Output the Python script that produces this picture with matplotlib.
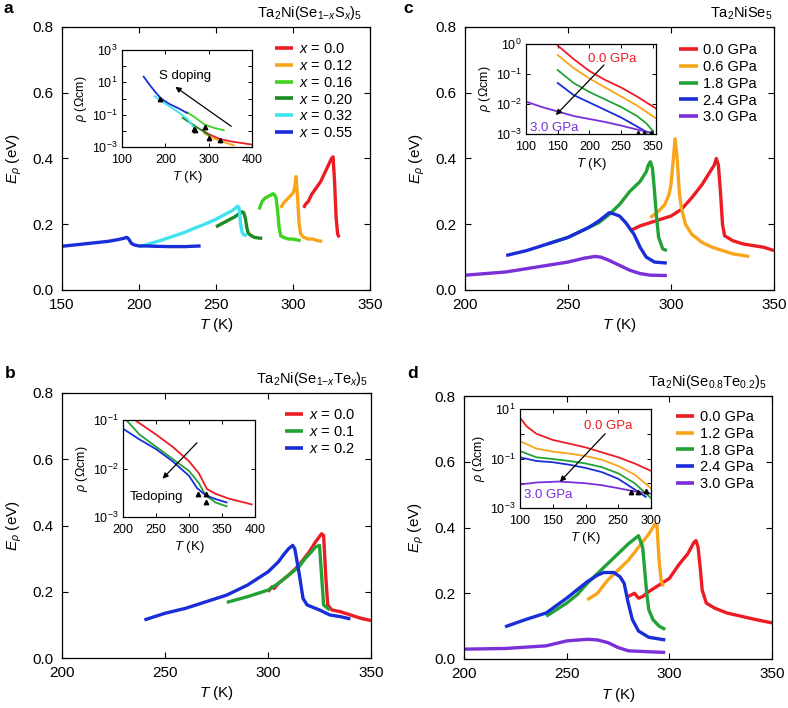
import numpy as np
import matplotlib
matplotlib.use('Agg')
import matplotlib.pyplot as plt

plt.rcParams['font.family'] = ['Liberation Sans', 'DejaVu Sans']
plt.rcParams['mathtext.fontset'] = 'custom'
plt.rcParams['mathtext.rm'] = 'Liberation Sans'
plt.rcParams['mathtext.it'] = 'Liberation Sans:italic'
plt.rcParams['mathtext.bf'] = 'Liberation Sans:bold'
plt.rcParams['xtick.direction'] = 'in'
plt.rcParams['ytick.direction'] = 'in'
plt.rcParams['xtick.top'] = True
plt.rcParams['ytick.right'] = True
plt.rcParams['xtick.minor.visible'] = False
plt.rcParams['ytick.minor.visible'] = False

RED, ORANGE, LGREEN, DGREEN = '#ec1c24', '#f8a51b', '#3fd31f', '#1c8a22'
GREEN, CYAN, BLUE, PURPLE = '#22a236', '#3fe3f0', '#1a2ed8', '#7a2fd8'

# ---- panel a : Ta2Ni(Se1-xSx)5 ----
a_labels = ['$x$ = 0.0', '$x$ = 0.12', '$x$ = 0.16', '$x$ = 0.20', '$x$ = 0.32', '$x$ = 0.55']
a_T = [
    [307, 308, 310, 312, 315, 318, 320, 322, 323, 324, 325, 326, 327, 328, 329, 330],
    [292, 294, 296, 298, 300, 301, 302, 303, 304, 305, 307, 310, 313, 316, 319],
    [278, 280, 282, 284, 286, 287, 288, 289, 290, 291, 292, 294, 297, 300, 303, 305],
    [250, 253, 256, 259, 262, 265, 267, 268, 269, 270, 271, 273, 275, 278, 280],
    [200, 205, 210, 215, 220, 225, 230, 235, 240, 245, 250, 255, 260, 263, 264, 265, 266, 267, 268, 270],
    [150, 160, 170, 180, 186, 190, 192, 193, 194, 195, 197, 200, 205, 210, 220, 230, 240],
]
a_E = [
    [0.25, 0.26, 0.27, 0.29, 0.31, 0.33, 0.35, 0.37, 0.38, 0.39, 0.40, 0.405, 0.33, 0.22, 0.17, 0.16],
    [0.25, 0.265, 0.275, 0.285, 0.295, 0.31, 0.345, 0.28, 0.20, 0.17, 0.16, 0.155, 0.155, 0.15, 0.148],
    [0.245, 0.27, 0.28, 0.285, 0.29, 0.293, 0.29, 0.28, 0.24, 0.19, 0.165, 0.16, 0.155, 0.155, 0.152, 0.15],
    [0.192, 0.2, 0.207, 0.215, 0.222, 0.232, 0.238, 0.235, 0.22, 0.19, 0.172, 0.165, 0.16, 0.158, 0.157],
    [0.132, 0.138, 0.145, 0.152, 0.16, 0.168, 0.176, 0.186, 0.195, 0.205, 0.215, 0.228, 0.24, 0.25, 0.255, 0.25, 0.2, 0.175, 0.168, 0.165],
    [0.133, 0.138, 0.143, 0.148, 0.153, 0.157, 0.16, 0.157, 0.15, 0.142, 0.137, 0.134, 0.134, 0.133, 0.132, 0.132, 0.134],
]
# inset a : log10(rho / Ohm cm) vs T
a_in_T = [
    [285, 300, 325, 350, 375, 400],
    [290, 310, 330, 358],
    [250, 270, 290, 310, 335],
    [240, 260, 280, 302],
    [175, 190, 210, 230, 250, 265],
    [150, 165, 180, 190, 210, 230, 250],
]
a_in_logrho = [
    [-1.95, -2.2, -2.5, -2.65, -2.75, -2.85],
    [-2.15, -2.45, -2.65, -2.9],
    [-0.85, -1.2, -1.6, -1.8, -1.97],
    [-1.2, -1.55, -1.9, -2.28],
    [0.15, -0.15, -0.5, -0.85, -1.25, -1.75],
    [1.35, 0.8, 0.3, 0.0, -0.35, -0.6, -0.9],
]
a_tri_T = [188, 265, 269, 292, 300, 327]
a_tri_logrho = [-0.04, -1.87, -1.95, -1.76, -2.42, -2.55]

# ---- panel c : Ta2NiSe5 under pressure ----
c_labels = ['0.0 GPa', '0.6 GPa', '1.8 GPa', '2.4 GPa', '3.0 GPa']
c_T = [
    [280, 285, 290, 295, 300, 305, 310, 315, 319, 321, 322, 323, 324, 325, 326, 330, 335, 340, 345, 350],
    [290, 294, 297, 299, 300, 301, 302, 303, 304, 305, 307, 310, 315, 320, 325, 330, 338],
    [240, 250, 260, 265, 270, 275, 280, 285, 288, 289, 290, 291, 292, 293, 294, 296, 298],
    [220, 230, 240, 250, 260, 265, 270, 272, 275, 278, 282, 285, 288, 292, 298],
    [200, 210, 220, 230, 240, 250, 258, 263, 266, 270, 275, 280, 285, 290, 298],
]
c_E = [
    [0.18, 0.195, 0.205, 0.215, 0.225, 0.245, 0.28, 0.32, 0.36, 0.38, 0.40, 0.38, 0.30, 0.20, 0.165, 0.15, 0.14, 0.135, 0.13, 0.12],
    [0.22, 0.24, 0.26, 0.29, 0.32, 0.39, 0.46, 0.40, 0.30, 0.25, 0.2, 0.17, 0.145, 0.13, 0.12, 0.11, 0.102],
    [0.14, 0.16, 0.19, 0.205, 0.23, 0.26, 0.30, 0.33, 0.36, 0.38, 0.39, 0.37, 0.30, 0.22, 0.16, 0.125, 0.12],
    [0.105, 0.12, 0.14, 0.16, 0.19, 0.21, 0.235, 0.232, 0.225, 0.205, 0.17, 0.13, 0.1, 0.085, 0.082],
    [0.045, 0.05, 0.055, 0.065, 0.075, 0.085, 0.097, 0.102, 0.1, 0.09, 0.075, 0.06, 0.05, 0.045, 0.044],
]
c_in_T = [
    [150, 175, 200, 225, 250, 275, 305],
    [150, 175, 200, 225, 250, 275, 305],
    [150, 175, 200, 225, 250, 275, 290, 300],
    [150, 175, 200, 225, 250, 275, 292],
    [100, 125, 150, 175, 200, 225, 250, 275, 300],
]
c_in_logrho = [
    [-0.05, -0.5, -0.9, -1.2, -1.45, -1.75, -2.15],
    [-0.37, -0.8, -1.15, -1.45, -1.75, -2.05, -2.48],
    [-0.87, -1.3, -1.6, -1.85, -2.1, -2.4, -2.65, -2.9],
    [-1.3, -1.7, -1.95, -2.2, -2.45, -2.75, -2.95],
    [-1.92, -2.1, -2.25, -2.4, -2.5, -2.6, -2.72, -2.85, -2.97],
]
c_tri_T = [276, 286, 297]
c_tri_logrho = [-2.97, -2.97, -2.97]
c_in_xticks = [100, 150, 200, 250, 300]
c_in_xticklabels = ['100', '150', '200', '250', '350']

# ---- panel b : Ta2Ni(Se1-xTex)5 ----
b_labels = ['$x$ = 0.0', '$x$ = 0.1', '$x$ = 0.2']
b_T = [
    [300, 302, 303, 305, 310, 315, 320, 323, 326, 327, 328, 329, 331, 335, 340, 345, 350],
    [280, 290, 300, 305, 310, 315, 318, 321, 323, 325, 326, 327, 330],
    [240, 250, 260, 270, 280, 290, 300, 305, 308, 310, 312, 313, 315, 317, 319, 325, 330, 335, 340],
]
b_E = [
    [0.2, 0.215, 0.21, 0.225, 0.25, 0.28, 0.32, 0.35, 0.375, 0.37, 0.25, 0.16, 0.145, 0.14, 0.13, 0.12, 0.113],
    [0.168, 0.185, 0.205, 0.225, 0.25, 0.275, 0.3, 0.32, 0.335, 0.34, 0.25, 0.16, 0.145],
    [0.115, 0.135, 0.15, 0.17, 0.19, 0.22, 0.26, 0.29, 0.315, 0.33, 0.34, 0.33, 0.26, 0.18, 0.16, 0.145, 0.13, 0.125, 0.118],
]
b_in_T = [
    [218, 250, 275, 300, 315, 327, 340, 360, 395],
    [205, 225, 250, 275, 300, 315, 325, 340, 357],
    [200, 225, 250, 275, 300, 312, 325, 340, 357],
]
b_in_logrho = [
    [-1.0, -1.3, -1.55, -1.85, -2.1, -2.42, -2.52, -2.62, -2.74],
    [-1.0, -1.3, -1.55, -1.8, -2.05, -2.3, -2.55, -2.7, -2.78],
    [-1.18, -1.4, -1.6, -1.85, -2.15, -2.4, -2.55, -2.63, -2.7],
]
b_tri_T = [313, 325.5, 325.5]
b_tri_logrho = [-2.52, -2.52, -2.69]

# ---- panel d : Ta2Ni(Se0.8Te0.2)5 under pressure ----
d_labels = ['0.0 GPa', '1.2 GPa', '1.8 GPa', '2.4 GPa', '3.0 GPa']
d_T = [
    [280, 283, 285, 287, 290, 295, 300, 305, 309, 312, 313, 314, 315, 316, 318, 322, 328, 335, 342, 350],
    [260, 265, 270, 275, 280, 285, 290, 293, 294, 295, 296, 297],
    [240, 250, 255, 260, 265, 270, 275, 280, 285, 287, 288, 289, 290, 292, 295, 298],
    [220, 230, 240, 250, 255, 260, 265, 268, 273, 276, 278, 280, 282, 285, 290, 298],
    [200, 220, 240, 250, 260, 265, 270, 275, 280, 290, 298],
]
d_E = [
    [0.19, 0.2, 0.185, 0.19, 0.205, 0.225, 0.245, 0.29, 0.32, 0.355, 0.36, 0.34, 0.28, 0.21, 0.17, 0.155, 0.14, 0.13, 0.12, 0.11],
    [0.18, 0.2, 0.24, 0.27, 0.3, 0.34, 0.38, 0.41, 0.405, 0.3, 0.24, 0.22],
    [0.13, 0.17, 0.195, 0.23, 0.26, 0.29, 0.32, 0.35, 0.375, 0.34, 0.27, 0.2, 0.15, 0.12, 0.1, 0.09],
    [0.098, 0.12, 0.14, 0.185, 0.21, 0.235, 0.255, 0.263, 0.263, 0.25, 0.23, 0.17, 0.12, 0.085, 0.066, 0.058],
    [0.03, 0.032, 0.04, 0.055, 0.06, 0.058, 0.05, 0.035, 0.025, 0.022, 0.02],
]
d_in_T = [
    [100, 110, 125, 150, 175, 200, 225, 250, 275, 300],
    [100, 125, 150, 175, 200, 225, 250, 275, 300],
    [100, 125, 150, 175, 200, 225, 250, 275, 300],
    [100, 125, 150, 175, 200, 225, 250, 275, 292],
    [100, 125, 160, 200, 225, 250, 275, 300],
]
d_in_logrho = [
    [0.65, 0.3, 0.0, -0.25, -0.4, -0.55, -0.75, -0.95, -1.2, -1.5],
    [-0.3, -0.6, -0.72, -0.8, -0.9, -1.05, -1.3, -1.65, -2.2],
    [-0.7, -0.95, -1.02, -1.1, -1.2, -1.35, -1.6, -2.0, -2.6],
    [-0.95, -1.1, -1.15, -1.25, -1.38, -1.55, -1.82, -2.25, -2.55],
    [-2.05, -1.97, -1.93, -2.0, -2.08, -2.2, -2.33, -2.42],
]
d_tri_T = [270, 280, 293]
d_tri_logrho = [-2.35, -2.35, -2.3]

W, H = 788, 708
fig = plt.figure(figsize=(W / 100, H / 100), dpi=100)


def box(l, t, r, b):
    return [l / W, 1 - b / H, (r - l) / W, (b - t) / H]


def main_panel(rect, Ts, Es, labels, colors, xlim, xticks, title, title_x, anchor):
    ax = fig.add_axes(box(*rect))
    for T, E, lab, col in zip(Ts, Es, labels, colors):
        ax.plot(T, E, color=col, lw=2.4, label=lab, solid_capstyle='butt')
    ax.set_xlim(*xlim)
    ax.set_ylim(0, 0.8)
    ax.set_xticks(xticks)
    ax.set_yticks([0, 0.2, 0.4, 0.6, 0.8])
    ax.set_yticklabels(['0.0', '0.2', '0.4', '0.6', '0.8'])
    ax.tick_params(labelsize=11, length=4, width=0.8, pad=6)
    ax.set_xlabel('$T$ (K)', fontsize=11, labelpad=3)
    ax.set_ylabel(r'$E_\rho$ (eV)', fontsize=11, labelpad=6)
    ax.text(title_x, 1.02, title, transform=ax.transAxes, ha='right', va='bottom', fontsize=10.5)
    leg = ax.legend(loc='upper right', bbox_to_anchor=anchor, frameon=False, fontsize=10.5,
                    handlelength=1.25, handletextpad=0.4, labelspacing=0.2, borderaxespad=0)
    for h in leg.get_lines():
        h.set_linewidth(2.6)
    for s in ax.spines.values():
        s.set_linewidth(0.9)
    return ax


def inset(rect, Ts, Ls, colors, xlim, ylog, xticks, xticklabels, ylabels, triT, triL):
    ax = fig.add_axes(box(*rect))
    for T, L, col in zip(Ts, Ls, colors):
        ax.plot(T, 10.0 ** np.array(L), color=col, lw=1.3)
    ax.plot(triT, 10.0 ** np.array(triL), '^', color='k', ms=3.2, zorder=5)
    ax.set_yscale('log')
    ax.set_xlim(*xlim)
    ax.set_ylim(10.0 ** ylog[0], 10.0 ** ylog[1])
    decades = list(range(ylog[0], ylog[1] + 1))
    ax.set_yticks([10.0 ** k for k in decades])
    ax.set_yticklabels([('$10^{%d}$' % k) if k in ylabels else '' for k in decades])
    ax.minorticks_off()
    ax.set_xticks(xticks)
    ax.set_xticklabels(xticklabels)
    ax.tick_params(labelsize=9, length=3, width=0.7)
    ax.tick_params(axis='x', pad=5)
    ax.tick_params(axis='y', pad=3)
    ax.set_xlabel('$T$ (K)', fontsize=9.5, labelpad=2)
    ax.set_ylabel(r'$\rho$ ($\Omega$cm)', fontsize=9, labelpad=2)
    for s in ax.spines.values():
        s.set_linewidth(0.9)
    return ax


def arrow(ax, start, end):
    ax.annotate('', xy=(end[0], 10.0 ** end[1]), xytext=(start[0], 10.0 ** start[1]),
                arrowprops=dict(arrowstyle='-|>', color='k', lw=0.9, mutation_scale=8,
                                shrinkA=0, shrinkB=0))


# panel a
a_cols = [RED, ORANGE, LGREEN, DGREEN, CYAN, BLUE]
main_panel((62, 27, 370, 290), a_T, a_E, a_labels, a_cols, (150, 350), [150, 200, 250, 300, 350],
           r'Ta$_2$Ni(Se$_{1\mathrm{-}x}$S$_x$)$_5$', 0.974, (0.966, 0.966))
ia = inset((122, 50, 252, 147), a_in_T, a_in_logrho, a_cols, (100, 400), (-3, 3),
           [100, 200, 300, 400], ['100', '200', '300', '400'], [-3, -1, 1, 3], a_tri_T, a_tri_logrho)
arrow(ia, (352, -1.72), (223, 0.72))
ia.text(246, 10 ** 1.39, 'S doping', ha='center', va='center', fontsize=9.5)

# panel c
c_cols = [RED, ORANGE, GREEN, BLUE, PURPLE]
main_panel((465, 27, 774, 290), c_T, c_E, c_labels, c_cols, (200, 350), [200, 250, 300, 350],
           r'Ta$_2$NiSe$_5$', 0.994, (0.965, 0.962))
ic = inset((526, 44, 656, 134), c_in_T, c_in_logrho, c_cols, (100, 305), (-3, 0),
           c_in_xticks, c_in_xticklabels, [-3, -2, -1, 0], c_tri_T, c_tri_logrho)
arrow(ic, (223, -0.7), (147, -2.37))
ic.text(236, 10 ** -0.51, '0.0 GPa', color=RED, ha='center', va='center', fontsize=9.5)
ic.text(145, 10 ** -2.79, '3.0 GPa', color=PURPLE, ha='center', va='center', fontsize=9.5)

# panel b
b_cols = [RED, GREEN, BLUE]
main_panel((62, 393, 371, 658), b_T, b_E, b_labels, b_cols, (200, 350), [200, 250, 300, 350],
           r'Ta$_2$Ni(Se$_{1\mathrm{-}x}$Te$_x$)$_5$', 0.99, (0.968, 0.966))
ib = inset((123, 420, 255, 517), b_in_T, b_in_logrho, b_cols, (200, 400), (-3, -1),
           [200, 250, 300, 350, 400], ['200', '250', '300', '350', '400'], [-3, -2, -1], b_tri_T, b_tri_logrho)
arrow(ib, (312, -1.47), (260, -2.21))
ib.text(251, 10 ** -2.58, 'Tedoping', ha='center', va='center', fontsize=9.5)

# panel d
d_cols = [RED, ORANGE, GREEN, BLUE, PURPLE]
main_panel((464, 396, 772, 659), d_T, d_E, d_labels, d_cols, (200, 350), [200, 250, 300, 350],
           r'Ta$_2$Ni(Se$_{0.8}$Te$_{0.2}$)$_5$', 0.984, (0.96, 0.97))
idd = inset((520, 409, 651, 508), d_in_T, d_in_logrho, d_cols, (100, 300), (-3, 1),
            [100, 150, 200, 250, 300], ['100', '150', '200', '250', '300'], [-3, -1, 1], d_tri_T, d_tri_logrho)
arrow(idd, (230, 0.0), (161, -1.94))
idd.text(235, 10 ** 0.3, '0.0 GPa', color=RED, ha='center', va='center', fontsize=9.5)
idd.text(143, 10 ** -2.47, '3.0 GPa', color=PURPLE, ha='center', va='center', fontsize=9.5)

# panel letters
for lx, ly, letter in [(3, 1, 'a'), (403, 1, 'c'), (5, 366, 'b'), (407, 366, 'd')]:
    fig.text(lx / W, 1 - ly / H, letter, fontsize=12.5, fontweight='bold', va='top', ha='left')

fig.savefig('out.png', dpi=100)
